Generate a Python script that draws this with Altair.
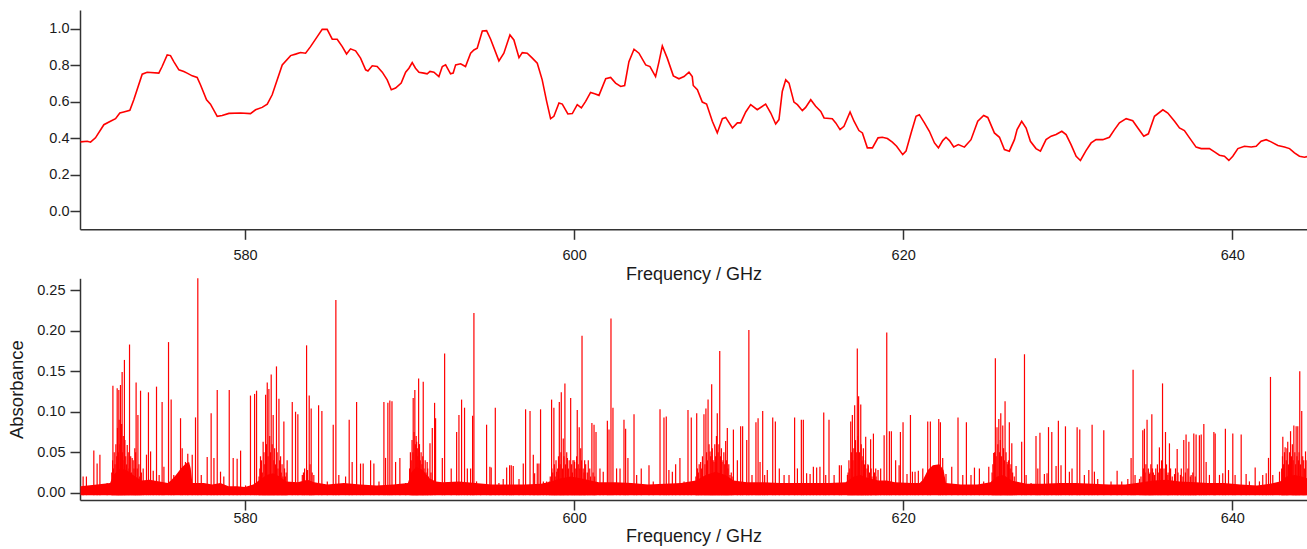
import altair as alt
import pandas as pd

# ---------------- top panel: smooth trace ----------------
top_freq = [570.00, 570.41, 570.61, 570.91, 571.42, 571.82, 572.13, 572.39, 572.63, 573.00,
            573.24, 573.75, 574.05, 574.76, 574.96, 575.27, 575.47, 575.67, 575.98, 576.28,
            576.48, 576.79, 577.09, 577.29, 577.66, 577.90, 578.31, 578.61, 579.02, 579.73,
            580.33, 580.64, 581.04, 581.35, 581.65, 582.26, 582.77, 583.07, 583.37, 583.68,
            583.98, 584.39, 584.69, 584.99, 585.30, 585.60, 585.91, 586.17, 586.41, 586.72,
            587.02, 587.33, 587.47, 587.73, 588.03, 588.34, 588.64, 588.89, 589.15, 589.49,
            589.76, 589.96, 590.16, 590.36, 590.57, 590.87, 591.07, 591.24, 591.48, 591.78,
            591.99, 592.19, 592.49, 592.65, 592.80, 593.10, 593.40, 593.71, 593.91, 594.11,
            594.42, 594.68, 594.92,
            595.43, 595.73, 596.10, 596.34, 596.65, 596.85, 597.15, 597.46, 597.76, 598.06,
            598.33, 598.57, 598.77, 599.08, 599.28, 599.62, 599.89, 600.19, 600.44, 600.70,
            601.00, 601.25, 601.51, 601.92, 602.22, 602.52, 602.83, 603.07, 603.33, 603.64,
            603.94, 604.35, 604.61, 604.95, 605.16, 605.36, 605.66, 606.03, 606.37, 606.68,
            606.98, 607.18, 607.24, 607.49, 607.79, 608.05, 608.40, 608.70, 609.01, 609.21,
            609.62, 609.92, 610.12, 610.43, 610.73, 611.13, 611.64, 611.95, 612.25, 612.45,
            612.65, 612.86, 613.06, 613.36, 613.57, 613.87, 614.07, 614.38, 614.68, 614.99,
            615.19, 615.69, 615.90, 616.16, 616.40, 616.77, 617.01, 617.31, 617.52, 617.82,
            618.13, 618.47, 618.73, 619.04, 619.34, 619.60,
            619.97, 620.17, 620.48, 620.78, 620.98, 621.29, 621.59, 621.90, 622.14, 622.40,
            622.60, 622.81, 623.07, 623.35, 623.72, 624.12, 624.53, 624.89, 625.14, 625.54,
            625.85, 626.15, 626.45, 626.76, 626.92, 627.20, 627.47, 627.73, 628.07, 628.34,
            628.68, 628.99, 629.29, 629.64, 629.90, 630.20, 630.51, 630.77, 631.11, 631.42,
            631.72, 632.13, 632.53, 632.84, 633.14, 633.55, 633.95, 634.26, 634.62, 634.90,
            635.27, 635.78, 636.08, 636.49, 636.79, 637.09, 637.40, 637.80, 638.11, 638.61,
            638.92, 639.22, 639.52, 639.79, 640.03, 640.34, 640.74, 641.15, 641.45, 641.75,
            642.06, 642.36, 642.77, 643.17, 643.48, 643.78, 644.08, 644.39, 644.54]
top_val = [0.381, 0.384, 0.379, 0.403, 0.475, 0.494, 0.508, 0.539, 0.545, 0.554,
           0.612, 0.752, 0.763, 0.758, 0.794, 0.858, 0.854, 0.821, 0.776, 0.767,
           0.758, 0.743, 0.734, 0.694, 0.612, 0.588, 0.521, 0.525, 0.537, 0.539,
           0.536, 0.557, 0.570, 0.588, 0.639, 0.803, 0.854, 0.862, 0.871, 0.867,
           0.903, 0.958, 0.998, 0.998, 0.944, 0.944, 0.903, 0.863, 0.891, 0.880,
           0.840, 0.776, 0.770, 0.798, 0.794, 0.763, 0.721, 0.667, 0.676, 0.703,
           0.763, 0.785, 0.816, 0.785, 0.763, 0.758, 0.754, 0.767, 0.763, 0.739,
           0.794, 0.803, 0.754, 0.758, 0.803, 0.809, 0.794, 0.867, 0.885, 0.894,
           0.989, 0.991, 0.945,
           0.825, 0.867, 0.967, 0.940, 0.843, 0.870, 0.867, 0.840, 0.812, 0.721,
           0.603, 0.508, 0.521, 0.594, 0.588, 0.534, 0.536, 0.585, 0.567, 0.603,
           0.652, 0.645, 0.636, 0.727, 0.734, 0.703, 0.685, 0.690, 0.821, 0.889,
           0.867, 0.803, 0.794, 0.739, 0.821, 0.907, 0.840, 0.743, 0.727, 0.739,
           0.763, 0.739, 0.690, 0.667, 0.599, 0.588, 0.494, 0.430, 0.508, 0.515,
           0.457, 0.485, 0.485, 0.545, 0.585, 0.557, 0.588, 0.539, 0.479, 0.503,
           0.657, 0.721, 0.703, 0.599, 0.585, 0.552, 0.570, 0.612, 0.576, 0.548,
           0.512, 0.508, 0.485, 0.448, 0.466, 0.545, 0.494, 0.443, 0.430, 0.348,
           0.348, 0.403, 0.406, 0.399, 0.379, 0.357,
           0.311, 0.330, 0.430, 0.521, 0.530, 0.485, 0.439, 0.375, 0.348, 0.388,
           0.406, 0.388, 0.353, 0.366, 0.352, 0.393, 0.494, 0.526, 0.515, 0.430,
           0.406, 0.339, 0.330, 0.393, 0.448, 0.494, 0.457, 0.384, 0.344, 0.330,
           0.393, 0.412, 0.421, 0.439, 0.421, 0.366, 0.302, 0.279, 0.333, 0.375,
           0.393, 0.393, 0.406, 0.448, 0.485, 0.508, 0.497, 0.457, 0.412, 0.425,
           0.521, 0.557, 0.539, 0.494, 0.457, 0.443, 0.403, 0.352, 0.344, 0.344,
           0.326, 0.308, 0.302, 0.279, 0.302, 0.344, 0.357, 0.353, 0.357, 0.384,
           0.393, 0.381, 0.361, 0.353, 0.344, 0.321, 0.302, 0.297, 0.300]

# ---------------- bottom panel: absorption lines ----------------
peak_freq_a = [570.16, 570.36, 570.81, 571.01, 571.18, 571.62, 571.97, 572.23, 572.33, 572.43,
               572.53, 572.67, 572.84, 572.98, 573.14, 573.30, 573.38, 573.49, 573.65, 573.81,
               574.01, 574.13, 574.26, 574.42, 574.62, 574.78, 574.96, 575.07, 575.35, 575.51,
               575.67, 576.08, 576.18, 576.38, 576.52, 576.79, 576.99, 577.13, 577.34, 577.70,
               577.94, 578.11, 578.31, 578.51, 578.71, 579.04, 579.28, 579.52, 579.73, 580.03,
               580.33, 580.58, 580.70, 580.94, 581.10, 581.25, 581.35, 581.45, 581.59, 581.71,
               581.91, 582.06, 582.16, 582.36, 582.56, 582.87, 583.07, 583.21, 583.48, 583.74,
               583.90, 584.02, 584.18, 584.47, 584.67, 585.00, 585.36, 585.52, 585.70, 586.11,
               586.33, 586.51, 586.78, 587.02, 587.18, 587.63, 587.83, 588.14, 588.44, 588.54,
               588.68, 588.80, 588.93, 589.15, 589.41, 589.76, 590.22, 590.32, 590.43, 590.55,
               590.83, 591.07, 591.24, 591.38, 591.52, 591.58, 591.99, 592.13, 592.53, 592.86,
               593.00, 593.16, 593.34, 593.51, 593.71, 593.83, 593.91, 594.07, 594.32, 594.68,
               594.88]
peak_abs_a = [0.020, 0.020, 0.052, 0.036, 0.047, 0.012, 0.132, 0.129, 0.127, 0.133,
              0.149, 0.164, 0.059, 0.183, 0.043, 0.055, 0.136, 0.096, 0.126, 0.030,
              0.047, 0.124, 0.051, 0.027, 0.131, 0.022, 0.112, 0.032, 0.186, 0.115,
              0.022, 0.092, 0.055, 0.038, 0.048, 0.047, 0.093, 0.265, 0.022, 0.044,
              0.098, 0.043, 0.127, 0.026, 0.020, 0.127, 0.043, 0.042, 0.052, 0.009,
              0.120, 0.122, 0.126, 0.045, 0.063, 0.121, 0.136, 0.128, 0.146, 0.096,
              0.156, 0.116, 0.045, 0.088, 0.040, 0.112, 0.100, 0.097, 0.022, 0.182,
              0.120, 0.104, 0.022, 0.108, 0.101, 0.014, 0.084, 0.238, 0.022, 0.020,
              0.090, 0.038, 0.112, 0.036, 0.036, 0.040, 0.036, 0.014, 0.112, 0.043,
              0.111, 0.114, 0.113, 0.038, 0.043, 0.012, 0.117, 0.127, 0.063, 0.141,
              0.137, 0.038, 0.061, 0.080, 0.111, 0.092, 0.043, 0.172, 0.030, 0.075,
              0.096, 0.115, 0.105, 0.030, 0.030, 0.095, 0.222, 0.014, 0.009, 0.084,
              0.032]

peak_freq_b = [594.96, 595.21, 595.43, 595.69, 595.90, 596.08, 596.18, 596.30, 596.65, 596.91,
               597.05, 597.32, 597.52, 597.60, 597.76, 597.86, 597.96, 598.13, 598.33, 598.49,
               598.63, 598.77, 598.94, 599.10, 599.22, 599.34, 599.44, 599.59, 599.79, 599.93,
               600.03, 600.19, 600.31, 600.40, 600.48, 600.64, 600.86, 601.08, 601.21, 601.33,
               601.57, 601.77, 602.02, 602.12, 602.24, 602.36, 602.58, 602.79, 603.03, 603.13,
               603.27, 603.64, 603.80, 604.08, 604.55, 604.81, 605.22, 605.46, 605.60, 605.76,
               605.97, 606.17, 606.43, 606.68, 606.92, 607.12, 607.45, 607.69, 607.89, 608.01,
               608.14, 608.26, 608.36, 608.50, 608.70, 608.85, 608.99, 609.21, 609.31, 609.47,
               609.68, 609.92, 610.12, 610.24, 610.49, 610.62, 610.81, 611.05, 611.18, 611.30,
               611.46, 611.58, 611.74, 612.07, 612.23, 612.47, 612.76, 613.06, 613.40, 613.57,
               613.81, 613.93, 614.13, 614.34, 614.54, 614.74, 614.94, 615.17, 615.29, 615.49,
               615.80, 616.12, 616.24, 616.61, 616.81, 616.91, 617.05, 617.21, 617.29, 617.42,
               617.58, 617.72, 617.88, 618.02, 618.19, 618.33, 618.47, 618.63, 618.84, 619.00,
               619.16, 619.28, 619.54, 619.75]
peak_abs_b = [0.031, 0.105, 0.012, 0.017, 0.031, 0.034, 0.034, 0.033, 0.017, 0.036,
              0.103, 0.101, 0.047, 0.024, 0.036, 0.036, 0.103, 0.014, 0.014, 0.014,
              0.115, 0.105, 0.026, 0.112, 0.124, 0.067, 0.135, 0.043, 0.117, 0.040,
              0.038, 0.102, 0.081, 0.055, 0.194, 0.040, 0.040, 0.086, 0.084, 0.075,
              0.030, 0.026, 0.089, 0.078, 0.215, 0.105, 0.030, 0.030, 0.090, 0.079,
              0.043, 0.097, 0.022, 0.030, 0.034, 0.014, 0.103, 0.093, 0.094, 0.028,
              0.026, 0.035, 0.043, 0.014, 0.102, 0.093, 0.098, 0.038, 0.097, 0.104,
              0.115, 0.051, 0.134, 0.038, 0.098, 0.175, 0.038, 0.064, 0.080, 0.022,
              0.078, 0.040, 0.082, 0.082, 0.065, 0.201, 0.022, 0.087, 0.092, 0.038,
              0.101, 0.022, 0.028, 0.093, 0.088, 0.030, 0.022, 0.022, 0.093, 0.030,
              0.090, 0.090, 0.024, 0.023, 0.032, 0.031, 0.032, 0.099, 0.022, 0.090,
              0.022, 0.034, 0.034, 0.022, 0.088, 0.096, 0.108, 0.178, 0.119, 0.109,
              0.055, 0.069, 0.034, 0.066, 0.073, 0.030, 0.028, 0.030, 0.071, 0.198,
              0.076, 0.076, 0.040, 0.034]

peak_freq_c = [619.83, 619.99, 620.23, 620.44, 620.56, 620.72, 620.92, 621.19, 621.49, 621.65,
               622.16, 622.26, 622.40, 622.60, 622.95, 623.33, 623.62, 623.84, 624.12, 624.33,
               624.63, 624.89, 625.20, 625.50, 625.60, 625.70, 625.81, 625.93, 626.05, 626.19,
               626.31, 626.45, 626.60, 626.86, 627.20, 627.37, 627.47, 627.77, 628.07, 628.18,
               628.31, 628.58, 628.74, 628.83, 629.03, 629.29, 629.43, 629.59, 629.86, 630.10,
               630.26, 630.57, 630.73, 631.01, 631.28, 631.48, 631.62, 631.82, 632.19, 632.63,
               633.00, 633.28, 633.65, 633.85, 633.97, 634.09, 634.36, 634.56, 634.66, 634.82,
               634.96, 635.11, 635.27, 635.57, 635.76, 635.94, 636.08, 636.18, 636.49, 636.65,
               636.85, 637.05, 637.19, 637.36, 637.50, 637.66, 637.80, 638.00, 638.11, 638.27,
               638.41, 638.61, 638.88, 638.96, 639.22, 639.42, 639.58, 639.77, 640.03, 640.17,
               640.54, 640.84, 641.04, 641.39, 641.65, 641.85, 642.06, 642.20, 642.32, 642.46,
               642.87, 643.07, 643.21, 643.37, 643.54, 643.74, 643.88, 643.98, 644.10, 644.22,
               644.34, 644.45]
peak_abs_c = [0.075, 0.087, 0.023, 0.096, 0.026, 0.026, 0.027, 0.030, 0.088, 0.088,
              0.091, 0.087, 0.043, 0.023, 0.032, 0.093, 0.022, 0.087, 0.022, 0.031,
              0.030, 0.014, 0.032, 0.049, 0.166, 0.081, 0.091, 0.098, 0.083, 0.113,
              0.038, 0.087, 0.061, 0.033, 0.063, 0.171, 0.022, 0.012, 0.070, 0.030,
              0.074, 0.023, 0.024, 0.081, 0.075, 0.033, 0.089, 0.034, 0.082, 0.026,
              0.030, 0.081, 0.078, 0.022, 0.028, 0.084, 0.026, 0.017, 0.077, 0.014,
              0.027, 0.014, 0.017, 0.043, 0.152, 0.022, 0.017, 0.077, 0.079, 0.090,
              0.023, 0.097, 0.022, 0.056, 0.135, 0.075, 0.022, 0.061, 0.023, 0.054,
              0.022, 0.065, 0.072, 0.063, 0.022, 0.073, 0.072, 0.071, 0.072, 0.085,
              0.038, 0.022, 0.075, 0.073, 0.022, 0.024, 0.079, 0.028, 0.073, 0.022,
              0.072, 0.023, 0.014, 0.031, 0.014, 0.022, 0.024, 0.043, 0.143, 0.022,
              0.026, 0.069, 0.056, 0.063, 0.076, 0.083, 0.082, 0.082, 0.150, 0.101,
              0.040, 0.051]

# weaker lines packed inside the dense clusters (freq GHz, absorbance), estimated
cluster_lines = [
    (571.90, .025), (571.95, .040), (572.00, .030), (572.05, .050), (572.10, .035), (572.15, .060),
    (572.20, .045), (572.25, .080), (572.30, .050), (572.35, .090), (572.40, .060), (572.45, .075),
    (572.50, .085), (572.55, .050), (572.60, .070), (572.65, .040), (572.70, .065), (572.75, .045),
    (572.80, .035), (572.90, .050), (572.95, .030), (573.05, .045), (573.10, .025), (573.20, .040),
    (573.25, .030), (573.35, .050), (573.45, .030), (573.55, .035), (573.60, .020), (573.70, .025),
    (580.85, .020), (580.90, .030), (581.00, .040), (581.05, .025), (581.15, .050), (581.20, .035),
    (581.30, .060), (581.40, .045), (581.50, .070), (581.55, .050), (581.65, .060), (581.75, .040),
    (581.80, .055), (581.85, .035), (581.95, .050), (582.00, .030), (582.10, .040), (582.20, .025),
    (582.25, .035), (582.30, .020), (582.40, .030), (582.45, .020), (582.50, .025),
    (583.55, .025), (583.62, .030), (583.80, .028), (583.95, .035), (584.08, .025),
    (590.00, .030), (590.05, .050), (590.10, .040), (590.15, .065), (590.20, .050), (590.27, .075),
    (590.35, .060), (590.40, .070), (590.47, .055), (590.50, .045), (590.60, .060), (590.65, .040),
    (590.70, .050), (590.75, .035), (590.80, .045), (590.88, .030), (590.95, .040), (591.00, .025),
    (591.10, .030), (591.15, .020), (591.30, .025),
    (598.55, .020), (598.65, .030), (598.70, .025), (598.80, .035), (598.85, .020), (598.90, .040),
    (599.00, .030), (599.05, .045), (599.15, .035), (599.20, .050), (599.30, .030), (599.38, .045),
    (599.48, .035), (599.55, .050), (599.65, .030), (599.70, .040), (599.85, .035), (599.90, .025),
    (600.00, .040), (600.10, .030), (600.15, .045), (600.25, .035), (600.35, .030), (600.45, .040),
    (600.55, .030), (600.60, .025), (600.70, .035), (600.80, .025), (600.95, .030), (601.00, .020),
    (601.15, .025), (601.25, .020),
    (607.40, .020), (607.50, .030), (607.55, .025), (607.60, .035), (607.75, .030), (607.80, .045),
    (607.95, .035), (608.05, .050), (608.10, .040), (608.20, .060), (608.30, .045), (608.40, .055),
    (608.45, .040), (608.55, .060), (608.60, .045), (608.65, .070), (608.75, .050), (608.80, .060),
    (608.90, .045), (608.95, .055), (609.05, .040), (609.10, .050), (609.15, .035), (609.25, .040),
    (609.35, .030), (609.40, .035), (609.55, .025), (609.60, .020),
    (616.65, .025), (616.70, .040), (616.75, .030), (616.85, .050), (616.95, .040), (617.00, .055),
    (617.10, .065), (617.15, .050), (617.25, .070), (617.35, .050), (617.45, .060), (617.50, .040),
    (617.55, .045), (617.65, .035), (617.70, .040), (617.80, .030), (617.85, .035), (617.95, .025),
    (618.05, .030), (618.10, .020), (618.25, .025), (618.35, .020),
    (625.40, .025), (625.45, .035), (625.55, .050), (625.65, .045), (625.75, .060), (625.85, .050),
    (625.90, .065), (625.98, .045), (626.10, .055), (626.15, .040), (626.25, .050), (626.35, .035),
    (626.40, .040), (626.50, .030), (626.55, .035), (626.65, .025), (626.75, .020),
    (634.45, .020), (634.60, .030), (634.70, .025), (634.75, .035), (634.90, .030), (635.00, .025),
    (635.05, .035), (635.15, .030), (635.20, .025), (635.35, .030), (635.45, .035), (635.50, .025),
    (635.65, .030), (635.70, .040), (635.85, .030), (636.00, .035), (636.10, .025), (636.25, .030),
    (636.35, .020), (636.55, .030), (636.70, .025), (636.90, .030), (637.00, .020), (637.15, .025),
    (637.30, .030), (637.45, .020), (637.60, .025), (637.75, .020),
    (643.00, .030), (643.05, .045), (643.12, .035), (643.17, .050), (643.28, .040), (643.32, .055),
    (643.42, .035), (643.48, .050), (643.60, .045), (643.65, .060), (643.70, .040), (643.80, .050),
    (643.85, .035), (643.93, .045), (644.02, .040), (644.06, .050), (644.15, .035), (644.28, .045),
    (644.38, .030), (644.48, .040),
]

# top of the solid band of unresolved weak lines near the baseline (freq GHz, absorbance)
floor_band = [
    (570.0, .008), (571.0, .010), (571.8, .012), (572.0, .022), (572.4, .030), (572.8, .028),
    (573.2, .022), (573.7, .015), (574.2, .016), (574.8, .014), (575.3, .012), (575.5, .015),
    (575.8, .022), (576.1, .030), (576.4, .036), (576.6, .038), (576.7, .030), (576.8, .012),
    (577.5, .012), (578.0, .010), (578.5, .012), (579.0, .008), (579.5, .008), (580.0, .007),
    (580.5, .010), (580.9, .016), (581.3, .022), (581.7, .024), (582.1, .020), (582.5, .014),
    (583.2, .013), (583.8, .016), (584.2, .013), (585.0, .010), (586.0, .012), (587.0, .010),
    (588.0, .009), (589.0, .010), (589.9, .012), (590.1, .025), (590.4, .032), (590.8, .028),
    (591.2, .018), (591.6, .014), (592.0, .013), (593.0, .014), (594.0, .012), (595.0, .010),
    (596.0, .010), (597.0, .010), (598.0, .011), (598.6, .014), (599.2, .018), (599.8, .020),
    (600.4, .018), (601.0, .015), (601.5, .013), (602.5, .013), (603.5, .012), (604.5, .010),
    (605.5, .011), (606.5, .012), (607.4, .015), (608.0, .022), (608.6, .026), (609.2, .022),
    (609.7, .015), (610.5, .013), (611.5, .013), (612.5, .012), (613.5, .012), (614.5, .012),
    (615.5, .012), (616.5, .013), (617.0, .020), (617.4, .022), (617.9, .018), (618.5, .015),
    (619.0, .015), (619.5, .013), (620.5, .012), (621.0, .012), (621.2, .016), (621.5, .028),
    (621.8, .034), (622.2, .035), (622.45, .028), (622.6, .012), (623.5, .010), (624.5, .010),
    (625.3, .013), (625.7, .020), (626.1, .022), (626.6, .015), (627.5, .011), (628.5, .011),
    (629.5, .012), (630.5, .012), (631.5, .011), (632.5, .010), (633.5, .010), (634.5, .013),
    (635.2, .015), (636.0, .016), (636.8, .014), (637.8, .013), (638.5, .012), (639.5, .012),
    (640.5, .010), (641.5, .009), (642.3, .011), (642.9, .014), (643.3, .020), (643.8, .022),
    (644.2, .020), (644.54, .018),
]

x_ticks = [580, 600, 620, 640]
top_ticks = [0.0, 0.2, 0.4, 0.6, 0.8, 1.0]
bottom_ticks = [0.00, 0.05, 0.10, 0.15, 0.20, 0.25]

X_DOMAIN = [569.97, 644.54]
RED = "#ff0000"
W, H = 1227, 490

top_df = pd.DataFrame({"freq": top_freq, "val": top_val})
peak_df = pd.DataFrame({
    "freq": peak_freq_a + peak_freq_b + peak_freq_c + [f for f, _ in cluster_lines],
    "absorb": peak_abs_a + peak_abs_b + peak_abs_c + [a for _, a in cluster_lines],
})
floor_df = pd.DataFrame(floor_band, columns=["freq", "absorb"])

top_x = alt.X("freq:Q",
              scale=alt.Scale(domain=X_DOMAIN, nice=False, zero=False),
              axis=alt.Axis(orient="bottom", offset=-(H - 219.3), values=x_ticks, format="d",
                            title="Frequency / GHz", tickSize=10, labelPadding=9,
                            titlePadding=4, grid=False))
top_y = alt.Y("val:Q",
              scale=alt.Scale(domain=[-0.0985, 1.104], range=[219.3, 0], nice=False, zero=False),
              axis=alt.Axis(orient="left", values=top_ticks, format=".1f", title=None,
                            tickSize=10, labelPadding=1, grid=False))

top = alt.Chart(top_df).mark_line(color=RED, strokeWidth=1.6).encode(x=top_x, y=top_y)

bot_x_scale = alt.Scale(domain=X_DOMAIN, nice=False, zero=False)
bot_x_axis = alt.Axis(orient="bottom", values=x_ticks, format="d", title="Frequency / GHz",
                      tickSize=10, labelPadding=1, titlePadding=3, grid=False)
bot_y_scale = alt.Scale(domain=[-0.009, 0.2648], range=[H, 268.3], nice=False, zero=False)
bot_y_axis = alt.Axis(orient="left", values=bottom_ticks, format=".2f", title="Absorbance",
                      tickSize=10, labelPadding=5, titlePadding=10, titleFontSize=18.5, grid=False)

floor = alt.Chart(floor_df).mark_area(color=RED, opacity=1).encode(
    x=alt.X("freq:Q", scale=bot_x_scale, axis=bot_x_axis),
    y=alt.Y("absorb:Q", scale=bot_y_scale, axis=bot_y_axis),
    y2=alt.datum(-0.003),
)
lines = alt.Chart(peak_df).mark_rule(color=RED, strokeWidth=1.2).encode(
    x=alt.X("freq:Q", scale=bot_x_scale, axis=bot_x_axis),
    y=alt.Y("absorb:Q", scale=bot_y_scale, axis=bot_y_axis),
    y2=alt.datum(-0.003),
)
bottom = alt.layer(floor, lines)

chart = alt.layer(top, bottom).resolve_scale(x="independent", y="independent").properties(
    width=W, height=H,
    autosize=alt.AutoSizeParams(type="none"),
    padding={"left": 80, "top": 10, "right": 0, "bottom": 49},
).configure_view(stroke=None).configure_axis(
    domainColor="#333333", tickColor="#333333", domainWidth=1.5, tickWidth=1.5,
    labelColor="#1a1a1a", titleColor="#1a1a1a",
    labelFont="Liberation Sans", titleFont="Liberation Sans",
    labelFontSize=14.5, titleFontSize=18, titleFontWeight="normal",
)

chart.save("out.html", embed_options={"renderer": "svg", "actions": False})
